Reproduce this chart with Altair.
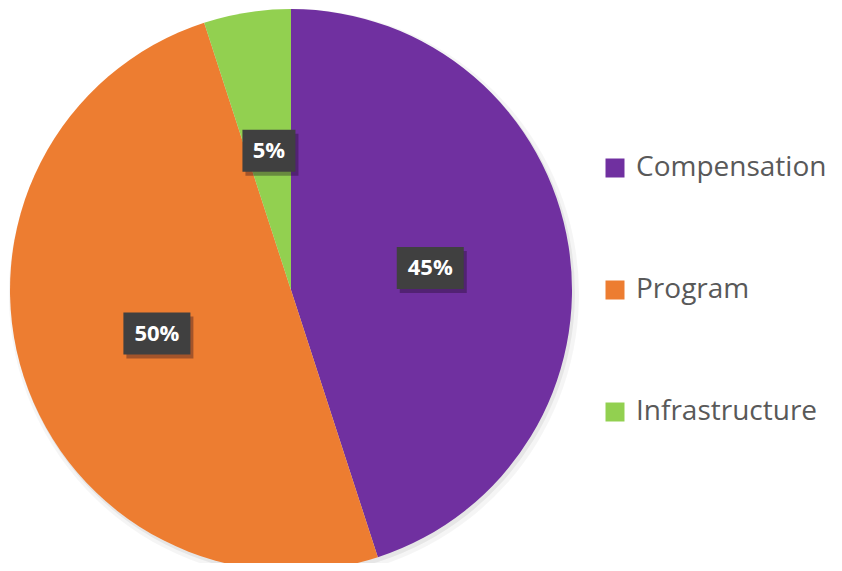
import altair as alt
import pandas as pd

categories = ["Compensation", "Program", "Infrastructure"]
values = [45, 50, 5]
colors = ["#7030A0", "#ED7D31", "#92D050"]
order = [0, 1, 2]

df = pd.DataFrame({"category": categories, "value": values, "order": order})

W, H = 826, 555
CX, CY = 283, 282
R = 281
LR = 141

xs = alt.Scale(domain=[-CX, W - CX], nice=False, zero=False)
ys = alt.Scale(domain=[CY - H, CY], nice=False, zero=False)

base = alt.Chart(df)

color_enc = alt.Color(
    "category:N",
    scale=alt.Scale(domain=categories, range=colors),
    legend=alt.Legend(
        title=None,
        orient="none",
        legendX=593,
        legendY=146,
        symbolType="square",
        symbolSize=361,
        symbolStrokeWidth=0,
        symbolOpacity=1,
        labelFont="Open Sans",
        labelFontSize=28,
        labelColor="#595959",
        labelOffset=7,
        rowPadding=94,
        padding=0,
        labelLimit=400,
    ),
)

shadow1 = base.mark_arc(outerRadius=R + 4, x=CX + 3, y=CY + 4, color="#000000", opacity=0.04).encode(
    theta=alt.Theta("value:Q", stack=True), order=alt.Order("order:Q")
)
shadow2 = base.mark_arc(outerRadius=R + 1, x=CX + 2, y=CY + 3, color="#000000", opacity=0.06).encode(
    theta=alt.Theta("value:Q", stack=True), order=alt.Order("order:Q")
)

pie = base.mark_arc(outerRadius=R, x=CX, y=CY).encode(
    theta=alt.Theta("value:Q", stack=True),
    color=color_enc,
    order=alt.Order("order:Q"),
)

lab = (
    base.transform_joinaggregate(total="sum(value)")
    .transform_window(cum="sum(value)", sort=[alt.SortField("order")], frame=[None, 0])
    .transform_calculate(
        mid="(datum.cum - datum.value/2) / datum.total * 2 * PI",
        lx=f"{LR} * sin(datum.mid)",
        ly=f"{LR} * cos(datum.mid)",
        label="round(datum.value / datum.total * 100) + '%'",
    )
    .transform_calculate(hw="12.5 + 7 * length(datum.label)")
    .transform_calculate(
        bx1="datum.lx - datum.hw",
        bx2="datum.lx + datum.hw",
        by1="datum.ly - 21",
        by2="datum.ly + 21",
    )
)

box_shadow = lab.mark_rect(
    color="#1a0a20", opacity=0.35, xOffset=3, x2Offset=3, yOffset=4, y2Offset=4
).encode(
    x=alt.X("bx1:Q", scale=xs, axis=None),
    x2="bx2:Q",
    y=alt.Y("by1:Q", scale=ys, axis=None),
    y2="by2:Q",
)

box = lab.mark_rect(color="#404040").encode(
    x=alt.X("bx1:Q", scale=xs, axis=None),
    x2="bx2:Q",
    y=alt.Y("by1:Q", scale=ys, axis=None),
    y2="by2:Q",
)

txt = lab.mark_text(
    font="Open Sans", fontSize=22, fontWeight="bold", color="#ffffff", baseline="middle", align="center"
).encode(
    x=alt.X("lx:Q", scale=xs, axis=None),
    y=alt.Y("ly:Q", scale=ys, axis=None),
    text="label:N",
)

chart = (
    alt.layer(shadow1, shadow2, pie, box_shadow, box, txt)
    .properties(width=W, height=H, padding=0, autosize=alt.AutoSizeParams(type="none"))
    .configure_view(stroke=None, strokeWidth=0)
)

chart.save("out.html", embed_options={"renderer": "svg", "actions": False})
